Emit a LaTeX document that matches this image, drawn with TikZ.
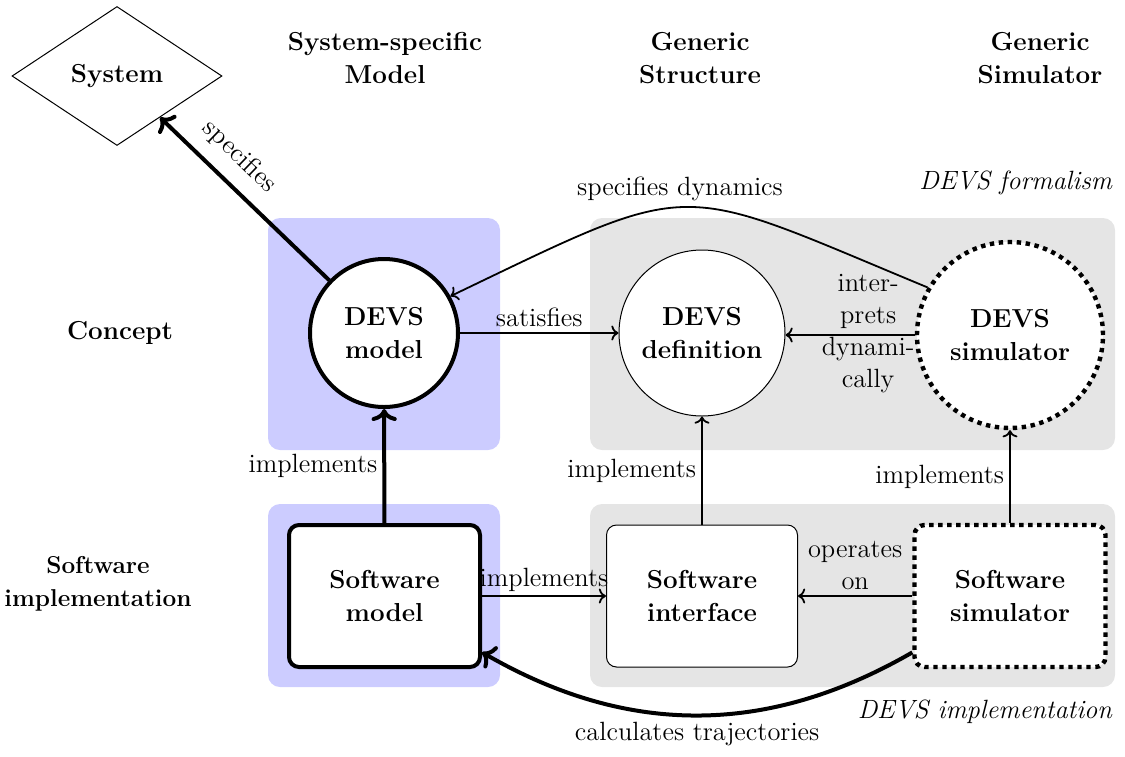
\documentclass[tikz,border=0pt]{standalone}
\usetikzlibrary{shapes.geometric,arrows.meta}
\begin{document}
\begin{tikzpicture}[x=0.5pt,y=-0.5pt,
  txt/.style={font=\fontsize{13.2}{16}\selectfont, align=center, inner sep=2.5pt},
  bold/.style={font=\fontsize{13}{16.5}\selectfont\bfseries, align=center},
  emph/.style={font=\fontsize{13.2}{16}\selectfont\itshape},
  concept/.style={bold, circle, draw, fill=white, inner sep=0pt},
  swbox/.style={bold, rectangle, rounded corners=5pt, draw, fill=white,
                minimum width=95.5pt, minimum height=71pt, inner sep=0pt},
  heavy/.style={line width=2pt},
  light/.style={line width=0.5pt},
  simdots/.style={line width=2.2pt, dash pattern=on 2.2pt off 2.3pt},
  thinarrow/.style={->, line width=0.9pt},
  thickarrow/.style={->, line width=2pt},
  modelbg/.style={fill=blue!20, rounded corners=6pt},
  genericbg/.style={fill=black!10, rounded corners=6pt}
]
\useasboundingbox (0,0) rectangle (1125,756);

% background panels
\fill[modelbg]   (268,218) rectangle (500,450);
\fill[genericbg] (590,218) rectangle (1115,450);
\fill[modelbg]   (268,504) rectangle (500,687);
\fill[genericbg] (590,504) rectangle (1115,687);

% column and row headings
\node[bold] (hmodel) at (385,58)  {System-specific\\Model};
\node[bold] (hstruct) at (700,58) {Generic\\Structure};
\node[bold] (hsim) at (1040,58)   {Generic\\Simulator};
\node[bold] (rconcept) at (120,333) {Concept};
\node[bold, font=\fontsize{12.2}{16.5}\selectfont\bfseries] (rsoft) at (98,584) {Software\\implementation};

\node[emph, anchor=east] (formalism) at (1119,183) {DEVS formalism};
\node[emph, anchor=east] (implementation) at (1119,712) {DEVS implementation};

% the system
\node[bold, diamond, draw, light, minimum width=105pt, minimum height=69.5pt,
      inner sep=0pt] (system) at (117,76) {System};

% concept level
\node[concept, heavy, minimum size=74pt] (model) at (384,333) {DEVS\\model};
\node[concept, light, minimum size=83pt] (def) at (702,333) {DEVS\\definition};
\node[concept, simdots, minimum size=93pt] (sim) at (1010,335) {DEVS\\simulator};

% software level
\node[swbox, heavy] (swmod) at (384.5,596) {Software\\model};
\node[swbox, light] (swif) at (702,596) {Software\\interface};
\node[swbox, simdots] (swsim) at (1010,596) {Software\\simulator};

% relations
\draw[thickarrow] (model) -- node[txt, sloped, above=4pt, pos=0.64] {specifies} (system);
\draw[thinarrow] (model) -- node[txt, above] {satisfies} (def);
\draw[thinarrow] (sim.west) -- node[txt, above, xshift=9pt] {inter-\\prets}
                 node[txt, below, xshift=9pt, yshift=2pt] {dynami-\\cally} (def.east |- sim.west);
\draw[thinarrow] (sim.150) .. controls +(-256,-106) and +(250,-120) ..
                 node[txt, above, pos=0.52] {specifies dynamics} (model.29);

\draw[thickarrow] (swmod) -- node[txt, left] {implements} (model);
\draw[thinarrow] (swif) -- node[txt, left] {implements} (def);
\draw[thinarrow] (swsim) -- node[txt, left] {implements} (sim);

\draw[thinarrow] (swmod) -- node[txt, above, inner sep=1.5pt] {implements} (swif);
\draw[thinarrow] (swsim) -- node[txt, above] {operates\\on} (swif);
\draw[thickarrow] (swsim.210) to[bend left=30]
                 node[txt, below] {calculates trajectories} (swmod.330);
\end{tikzpicture}
\end{document}
